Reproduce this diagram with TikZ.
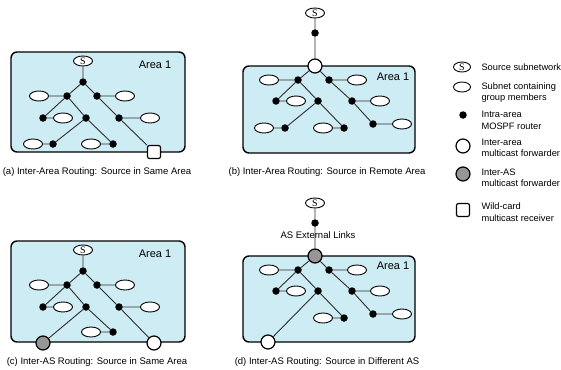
\documentclass[tikz,border=0pt]{standalone}
\usepackage{fontspec}
\setmainfont{Liberation Sans}
\newfontfamily\srcfont{Liberation Serif}
\usetikzlibrary{shapes.geometric, positioning}
\definecolor{areablue}{RGB}{205,236,243}
\definecolor{asgray}{RGB}{150,150,150}
\definecolor{linegray}{RGB}{45,45,45}

\begin{document}
\begin{tikzpicture}[x=1pt, y=-1pt,
    router/.style={circle, fill=black, inner sep=0pt, minimum size=7.5pt},
    subnet/.style={ellipse, draw, fill=white, line width=0.9pt, inner sep=0pt, minimum width=19pt, minimum height=10pt},
    source/.style={subnet, font=\srcfont\fontsize{10}{10}\selectfont},
    fwd/.style={circle, draw, fill=white, line width=1.2pt, inner sep=0pt, minimum size=14pt},
    asfwd/.style={fwd, fill=asgray},
    wildcard/.style={draw, fill=white, line width=1.2pt, rounded corners=2pt, inner sep=0pt, minimum size=13pt},
    area/.style={draw, line width=1.4pt, fill=areablue, rounded corners=6pt},
    link/.style={draw=linegray, line width=0.9pt},
    areatext/.style={font=\fontsize{11}{11}\selectfont},
    caption/.style={font=\fontsize{9.5}{11}\selectfont},
    legend/.style={anchor=west, align=left, font=\fontsize{9.3}{11.5}\selectfont}
  ]
  \useasboundingbox (0,0) rectangle (561,369);

  % (a) source in same area
  \draw[area] (11,52) rectangle (185,152);
  \node[areatext] (aarea) at (155,65) {Area 1};
  \node[source] (aS) at (83,61) {S};
  \node[router] (a1) at (83,82) {};
  \node[router] (a2) at (67,96) {};
  \node[router] (a3) at (97,96) {};
  \node[subnet] (ae1) at (39,96) {};
  \node[subnet] (ae2) at (125,96) {};
  \node[router] (a4) at (43,118) {};
  \node[subnet] (ae3) at (63,118) {};
  \node[router] (a5) at (86,118) {};
  \node[router] (a6) at (119,118) {};
  \node[subnet] (ae4) at (150,118) {};
  \node[router] (a7) at (53,144) {};
  \node[subnet] (ae5) at (33,144) {};
  \node[router] (a8) at (113,144) {};
  \node[subnet] (ae6) at (91,144) {};
  \node[wildcard] (awc) at (154,152) {};
  \draw[link] (aS) -- (a1) (a1) -- (a2) (a1) -- (a3) (a2) -- (ae1) (a3) -- (ae2)
    (a2) -- (a4) (a4) -- (ae3) (a2) -- (a5) (a5) -- (a7) (a7) -- (ae5)
    (a5) -- (a8) (a8) -- (ae6) (a3) -- (a6) (a6) -- (ae4) (a6) -- (awc);
  \node[caption] (acap) at (97,172) {(a) Inter-Area Routing: Source in Same Area};

  % (b) source in remote area
  \node[source] (bS) at (315,13) {S};
  \node[router] (b0) at (315,33) {};
  \draw[area] (243,66) rectangle (415,153);
  \node[areatext] (barea) at (393,77) {Area 1};
  \node[fwd] (bf) at (315,66) {};
  \node[router] (b1) at (298,80) {};
  \node[subnet] (be1) at (269,80) {};
  \node[router] (b2) at (329,80) {};
  \node[subnet] (be2) at (357,80) {};
  \node[router] (b3) at (276,101) {};
  \node[subnet] (be3) at (296,101) {};
  \node[router] (b4) at (318,101) {};
  \node[router] (b5) at (352,101) {};
  \node[subnet] (be4) at (380,101) {};
  \node[router] (b6) at (285,128) {};
  \node[subnet] (be5) at (264,128) {};
  \node[router] (b7) at (344,128) {};
  \node[subnet] (be6) at (323,128) {};
  \node[router] (b8) at (373,124) {};
  \node[subnet] (be7) at (402,124) {};
  \draw[link] (bS) -- (b0) (b0) -- (bf) (bf) -- (b1) (bf) -- (b2)
    (b1) -- (be1) (b1) -- (b3) (b3) -- (be3) (b1) -- (b4) (b4) -- (b6) (b6) -- (be5)
    (b4) -- (b7) (b7) -- (be6) (b2) -- (be2) (b2) -- (b5) (b5) -- (be4)
    (b5) -- (b8) (b8) -- (be7);
  \node[caption] (bcap) at (327,172) {(b) Inter-Area Routing: Source in Remote Area};

  % (c) inter-AS, source in same area
  \draw[area] (11,241) rectangle (185,342);
  \node[areatext] (carea) at (155,254) {Area 1};
  \node[source] (cS) at (83,250) {S};
  \node[router] (c1) at (83,271) {};
  \node[router] (c2) at (67,285) {};
  \node[router] (c3) at (97,285) {};
  \node[subnet] (ce1) at (39,285) {};
  \node[subnet] (ce2) at (125,285) {};
  \node[router] (c4) at (43,307) {};
  \node[subnet] (ce3) at (63,307) {};
  \node[router] (c5) at (86,307) {};
  \node[router] (c6) at (119,307) {};
  \node[subnet] (ce4) at (150,307) {};
  \node[router] (c8) at (113,332) {};
  \node[subnet] (ce6) at (91,332) {};
  \node[asfwd] (cg) at (43,343) {};
  \node[fwd] (cw) at (154,343) {};
  \draw[link] (cS) -- (c1) (c1) -- (c2) (c1) -- (c3) (c2) -- (ce1) (c3) -- (ce2)
    (c2) -- (c4) (c4) -- (ce3) (c2) -- (c5) (c5) -- (cg)
    (c5) -- (c8) (c8) -- (ce6) (c3) -- (c6) (c6) -- (ce4) (c6) -- (cw);
  \node[caption] (ccap) at (97,362) {(c) Inter-AS Routing: Source in Same Area};

  % (d) inter-AS, source in different AS
  \node[source] (dS) at (315,203) {S};
  \node[router] (d0) at (315,223) {};
  \draw[area] (243,256) rectangle (415,342);
  \node[areatext] (darea) at (393,266) {Area 1};
  \node[asfwd] (dg) at (315,256) {};
  \node[router] (d1) at (298,270) {};
  \node[subnet] (de1) at (269,270) {};
  \node[router] (d2) at (329,270) {};
  \node[subnet] (de2) at (357,270) {};
  \node[router] (d3) at (276,291) {};
  \node[subnet] (de3) at (296,291) {};
  \node[router] (d4) at (318,291) {};
  \node[router] (d5) at (352,291) {};
  \node[subnet] (de4) at (380,291) {};
  \node[router] (d7) at (344,318) {};
  \node[subnet] (de6) at (323,318) {};
  \node[router] (d8) at (373,314) {};
  \node[subnet] (de7) at (402,314) {};
  \node[fwd] (dw) at (268,342) {};
  \draw[link] (dS) -- (d0) (d0) -- (dg) (dg) -- (d1) (dg) -- (d2)
    (d1) -- (de1) (d1) -- (d3) (d3) -- (de3) (d1) -- (d4) (d4) -- (dw)
    (d4) -- (d7) (d7) -- (de6) (d2) -- (de2) (d2) -- (d5) (d5) -- (de4)
    (d5) -- (d8) (d8) -- (de7);
  \node[caption] (dlinks) at (318,235) {AS External Links};
  \node[caption] (dcap) at (327,362) {(d) Inter-AS Routing: Source in Different AS};

  % legend
  \node[source, minimum width=17pt] (kS) at (462,67) {S};
  \node[subnet, minimum width=17pt] (ke) at (462,87) {};
  \node[router] (kr) at (463,115) {};
  \node[fwd] (kf) at (463,146) {};
  \node[asfwd] (kg) at (463,174) {};
  \node[wildcard] (kw) at (463,210) {};
  \node[legend] (kStext) at (478,67) {Source subnetwork};
  \node[legend] (ketext) at (478,92.5) {Subnet containing\\group members};
  \node[legend] (krtext) at (478,120.5) {Intra-area\\MOSPF router};
  \node[legend] (kftext) at (478,148) {Inter-area\\multicast forwarder};
  \node[legend] (kgtext) at (478,178) {Inter-AS\\multicast forwarder};
  \node[legend] (kwtext) at (478,212) {Wild-card\\multicast receiver};
\end{tikzpicture}
\end{document}
